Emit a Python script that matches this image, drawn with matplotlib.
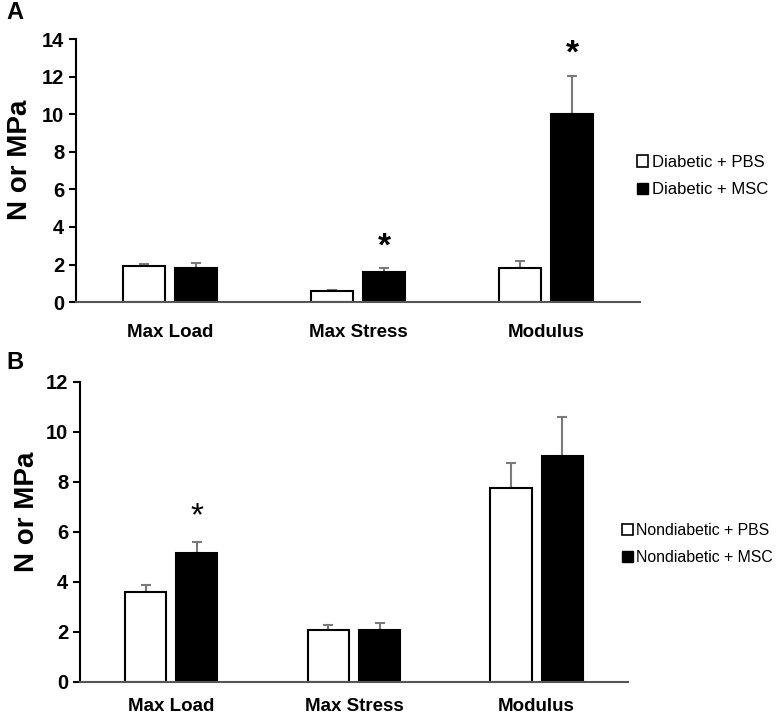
import numpy as np
import matplotlib
matplotlib.use("Agg")
import matplotlib.pyplot as plt
from matplotlib.patches import Patch

plt.rcParams['font.family'] = ['Liberation Sans', 'DejaVu Sans']

categories = ["Max Load", "Max Stress", "Modulus"]

# panel A: diabetic
diab_pbs = [1.92, 0.60, 1.82]
diab_pbs_err = [0.11, 0.05, 0.38]
diab_msc = [1.80, 1.60, 10.0]
diab_msc_err = [0.30, 0.20, 2.05]
diab_stars = [None, "MSC", "MSC"]

# panel B: nondiabetic
nond_pbs = [3.58, 2.07, 7.75]
nond_pbs_err = [0.29, 0.20, 1.00]
nond_msc = [5.16, 2.07, 9.03]
nond_msc_err = [0.42, 0.29, 1.57]
nond_stars = ["MSC", None, None]


def draw_panel(ax, pbs, pbs_err, msc, msc_err, stars, ymax, star_bold, star_gap, xpad, label_y):
    x = np.arange(len(categories))
    w = 0.225
    off = 0.14
    ax.bar(x - off, pbs, w, color="white", edgecolor="black", linewidth=1.5, zorder=2)
    ax.bar(x + off, msc, w, color="black", edgecolor="black", linewidth=1.5, zorder=2)
    ax.errorbar(x - off, pbs, yerr=[np.zeros(3), pbs_err], fmt="none",
                ecolor="#7a7a7a", elinewidth=1.5, capsize=3.5, capthick=1.5, zorder=1)
    ax.errorbar(x + off, msc, yerr=[np.zeros(3), msc_err], fmt="none",
                ecolor="#7a7a7a", elinewidth=1.5, capsize=3.5, capthick=1.5, zorder=1)
    for i, s in enumerate(stars):
        if s:
            top = msc[i] + msc_err[i]
            ax.text(x[i] + off, top + star_gap, "*", ha="center", va="bottom",
                    fontsize=24, fontweight="bold" if star_bold else "normal")
    ax.set_xlim(-0.5, 2.5)
    ax.set_ylim(0, ymax)
    ax.set_yticks(np.arange(0, ymax + 1, 2))
    ax.set_xticks(x)
    ax.set_xticklabels(categories, fontsize=13.5, fontweight="bold")
    ax.tick_params(axis="x", length=0, pad=xpad)
    ax.tick_params(axis="y", labelsize=14.5, width=1.5, length=5)
    for t in ax.get_yticklabels():
        t.set_fontweight("bold")
    ax.spines["top"].set_visible(False)
    ax.spines["right"].set_visible(False)
    ax.spines["left"].set_linewidth(1.5)
    ax.spines["bottom"].set_color("#555555")
    ax.spines["bottom"].set_linewidth(1.5)
    ax.set_ylabel("N or MPa", fontsize=20, fontweight="bold")
    ax.yaxis.set_label_coords(label_y[0], label_y[1])
    handles = [Patch(facecolor="white", edgecolor="black", linewidth=1.2),
               Patch(facecolor="black", edgecolor="black")]
    return handles


fig = plt.figure(figsize=(7.8, 7.16), dpi=100)
axA = fig.add_axes([0.0974, 0.578, 0.7231, 0.3675])
axB = fig.add_axes([0.1026, 0.048, 0.7024, 0.4185])

hA = draw_panel(axA, diab_pbs, diab_pbs_err, diab_msc, diab_msc_err, diab_stars, 14,
                True, 0.3, 16, (-0.076, 0.54))
hB = draw_panel(axB, nond_pbs, nond_pbs_err, nond_msc, nond_msc_err, nond_stars, 12,
                False, 0.4, 12, (-0.073, 0.567))

fig.legend(hA, ["Diabetic + PBS", "Diabetic + MSC"], loc="center left",
           bbox_to_anchor=(0.797, 0.754), frameon=False, fontsize=12,
           handlelength=0.7, handleheight=0.7, handletextpad=0.2, labelspacing=0.75)
fig.legend(hB, ["Nondiabetic + PBS", "Nondiabetic + MSC"], loc="center left",
           bbox_to_anchor=(0.779, 0.24), frameon=False, fontsize=11.4,
           handlelength=0.7, handleheight=0.7, handletextpad=0.2, labelspacing=0.8)

fig.text(0.008, 0.998, "A", fontsize=17, fontweight="bold", va="top")
fig.text(0.008, 0.51, "B", fontsize=17, fontweight="bold", va="top")

fig.savefig("out.png", dpi=100)
